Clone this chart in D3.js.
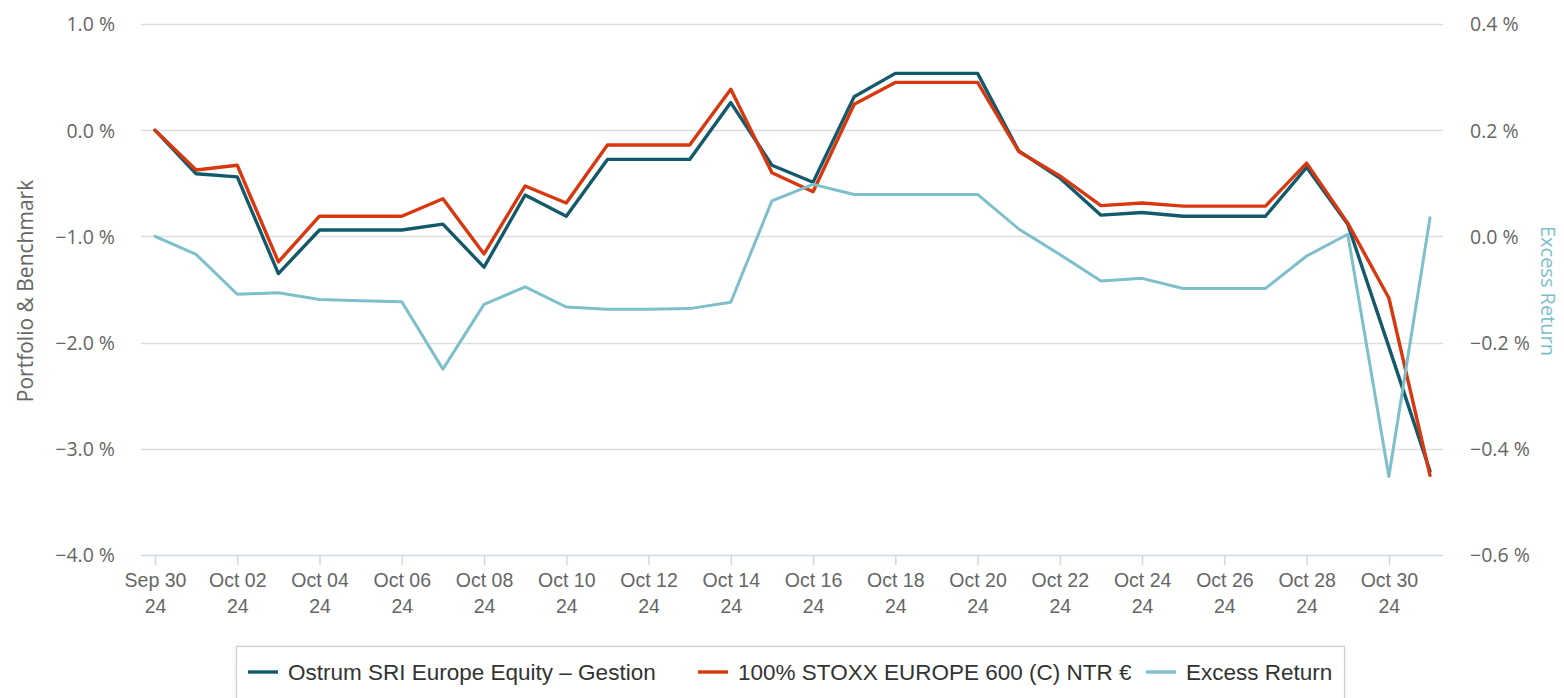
<!DOCTYPE html>
<html>
<head>
<meta charset="utf-8">
<script src="https://cdn.jsdelivr.net/npm/d3@7"></script>
<style>
  html, body { margin: 0; padding: 0; background: #fff; }
  svg { display: block; }
</style>
</head>
<body>
<svg id="chart" width="1564" height="698"></svg>
<script>
// ---- Data ----
const dates = ["Sep 30","Oct 01","Oct 02","Oct 03","Oct 04","Oct 05","Oct 06","Oct 07","Oct 08","Oct 09",
  "Oct 10","Oct 11","Oct 12","Oct 13","Oct 14","Oct 15","Oct 16","Oct 17","Oct 18","Oct 19",
  "Oct 20","Oct 21","Oct 22","Oct 23","Oct 24","Oct 25","Oct 26","Oct 27","Oct 28","Oct 29",
  "Oct 30","Oct 31"];
const yearLabel = "24";
const portfolio = [0, -0.41, -0.44, -1.35, -0.94, -0.94, -0.94, -0.885, -1.29, -0.61,
  -0.81, -0.275, -0.275, -0.275, 0.26, -0.33, -0.49, 0.315, 0.535, 0.535,
  0.535, -0.195, -0.45, -0.80, -0.775, -0.81, -0.81, -0.81, -0.35, -0.885,
  -2.04, -3.21];
const benchmark = [0, -0.375, -0.33, -1.24, -0.81, -0.81, -0.81, -0.645, -1.165, -0.525,
  -0.685, -0.14, -0.14, -0.14, 0.385, -0.40, -0.58, 0.245, 0.45, 0.45,
  0.45, -0.20, -0.43, -0.71, -0.685, -0.715, -0.715, -0.715, -0.31, -0.875,
  -1.58, -3.25];
const excess = [0, -0.034, -0.109, -0.106, -0.119, -0.121, -0.123, -0.25, -0.128, -0.095,
  -0.133, -0.137, -0.137, -0.136, -0.124, 0.067, 0.098, 0.079, 0.079, 0.079,
  0.079, 0.014, -0.034, -0.084, -0.079, -0.098, -0.098, -0.098, -0.037, 0.004,
  -0.452, 0.035];
const leftTicks = [-4, -3, -2, -1, 0, 1];
const rightTicks = [-0.6, -0.4, -0.2, 0, 0.2, 0.4];
const seriesNames = ["Ostrum SRI Europe Equity \u2013 Gestion", "100% STOXX EUROPE 600 (C) NTR \u20ac", "Excess Return"];
const leftTitle = "Portfolio & Benchmark";
const rightTitle = "Excess Return";

// ---- Styles ----
const colors = ["#13596c", "#d8380f", "#7dbfcb"];
const plot = { left: 141, right: 1443, top: 24, bottom: 555 };

const svg = d3.select("#chart");

const x = d3.scaleLinear().domain([0, dates.length - 1]).range([155, 1430]);
const yL = d3.scaleLinear().domain([-4, 1]).range([plot.bottom, plot.top]);
const yR = d3.scaleLinear().domain([-0.6, 0.4]).range([plot.bottom, plot.top]);

const fmt = (d, n) => (d < 0 ? "\u2212" : "") + Math.abs(d).toFixed(n) + " %";

// grid lines
svg.append("g").selectAll("line").data(leftTicks.filter(d => d !== -4)).join("line")
  .attr("x1", plot.left).attr("x2", plot.right)
  .attr("y1", d => Math.round(yL(d)) + 0.5).attr("y2", d => Math.round(yL(d)) + 0.5)
  .attr("stroke", "#dedede").attr("stroke-width", 1.5);

// left axis labels
const gL = svg.append("g").attr("transform", `translate(${plot.left},0)`)
  .call(d3.axisLeft(yL).tickValues(leftTicks).tickSize(0).tickPadding(26).tickFormat(d => fmt(d, 1)));
gL.select(".domain").remove();
gL.selectAll("text").attr("font-family", "'Open Sans', sans-serif").attr("font-size", 19.5)
  .attr("fill", "#666").attr("dy", "0.35em");

// right axis labels
const gR = svg.append("g").attr("transform", `translate(${plot.right},0)`)
  .call(d3.axisRight(yR).tickValues(rightTicks).tickSize(0).tickPadding(27).tickFormat(d => fmt(d, 1)));
gR.select(".domain").remove();
gR.selectAll("text").attr("font-family", "'Open Sans', sans-serif").attr("font-size", 19.5)
  .attr("fill", "#666").attr("dy", "0.35em");

// x axis
const xTickVals = d3.range(0, dates.length, 2);
const gX = svg.append("g").attr("transform", `translate(0,${plot.bottom})`)
  .call(d3.axisBottom(x).tickValues(xTickVals).tickSize(10).tickSizeOuter(0).tickPadding(8).tickFormat(i => dates[i]));
gX.select(".domain").attr("d", `M${plot.left},0.5H${plot.right}`).attr("stroke", "#ccd6eb").attr("stroke-width", 1.5);
gX.selectAll(".tick line").attr("stroke", "#ccd6eb").attr("stroke-width", 1.5);
gX.selectAll(".tick text").each(function(i) {
  const t = d3.select(this);
  t.text(null).attr("font-family", "'Liberation Sans', Arial, sans-serif").attr("font-size", 19.5).attr("fill", "#666").attr("y", 0);
  t.append("tspan").attr("x", 0).attr("y", 32).text(dates[i]);
  t.append("tspan").attr("x", 0).attr("y", 58).text(yearLabel);
});
gX.selectAll(".tick text").attr("dy", null);

// axis titles
svg.append("text").attr("transform", `translate(33,291) rotate(-90)`)
  .attr("text-anchor", "middle").attr("font-family", "'Open Sans', sans-serif").attr("font-size", 21)
  .attr("fill", "#666").text(leftTitle);
svg.append("text").attr("transform", `translate(1541,291) rotate(90)`)
  .attr("text-anchor", "middle").attr("font-family", "'Open Sans', sans-serif").attr("font-size", 20)
  .attr("fill", colors[2]).text(rightTitle);

// lines
const lineL = d3.line().x((d, i) => x(i)).y(d => yL(d));
const lineR = d3.line().x((d, i) => x(i)).y(d => yR(d));
svg.append("path").datum(portfolio).attr("d", lineL).attr("fill", "none")
  .attr("stroke", colors[0]).attr("stroke-width", 3.4).attr("stroke-linejoin", "round").attr("stroke-linecap", "round");
svg.append("path").datum(benchmark).attr("d", lineL).attr("fill", "none")
  .attr("stroke", colors[1]).attr("stroke-width", 3.4).attr("stroke-linejoin", "round").attr("stroke-linecap", "round");
svg.append("path").datum(excess).attr("d", lineR).attr("fill", "none")
  .attr("stroke", colors[2]).attr("stroke-width", 3).attr("stroke-linejoin", "round").attr("stroke-linecap", "round");

// legend
const defs = svg.append("defs");
const flt = defs.append("filter").attr("id", "shadow").attr("x", "-5%").attr("y", "-20%").attr("width", "110%").attr("height", "150%");
flt.append("feDropShadow").attr("dx", 0).attr("dy", 0).attr("stdDeviation", 2).attr("flood-color", "#000").attr("flood-opacity", 0.12);
svg.append("rect").attr("x", 236.5).attr("y", 646.5).attr("width", 1108).attr("height", 56)
  .attr("fill", "#fff").attr("stroke", "#cfcfcf").attr("stroke-width", 1.2).attr("filter", "url(#shadow)");
const legendSym = [248, 698, 1146];
const lg = svg.append("g");
seriesNames.forEach((name, k) => {
  lg.append("line").attr("x1", legendSym[k]).attr("x2", legendSym[k] + 30).attr("y1", 672).attr("y2", 672)
    .attr("stroke", colors[k]).attr("stroke-width", 3.4);
  lg.append("text").attr("x", legendSym[k] + 40).attr("y", 672).attr("dy", "0.35em")
    .attr("font-family", "'Liberation Sans', Arial, sans-serif").attr("font-size", 22.5).attr("fill", "#333")
    .text(name);
});
</script>
</body>
</html>
